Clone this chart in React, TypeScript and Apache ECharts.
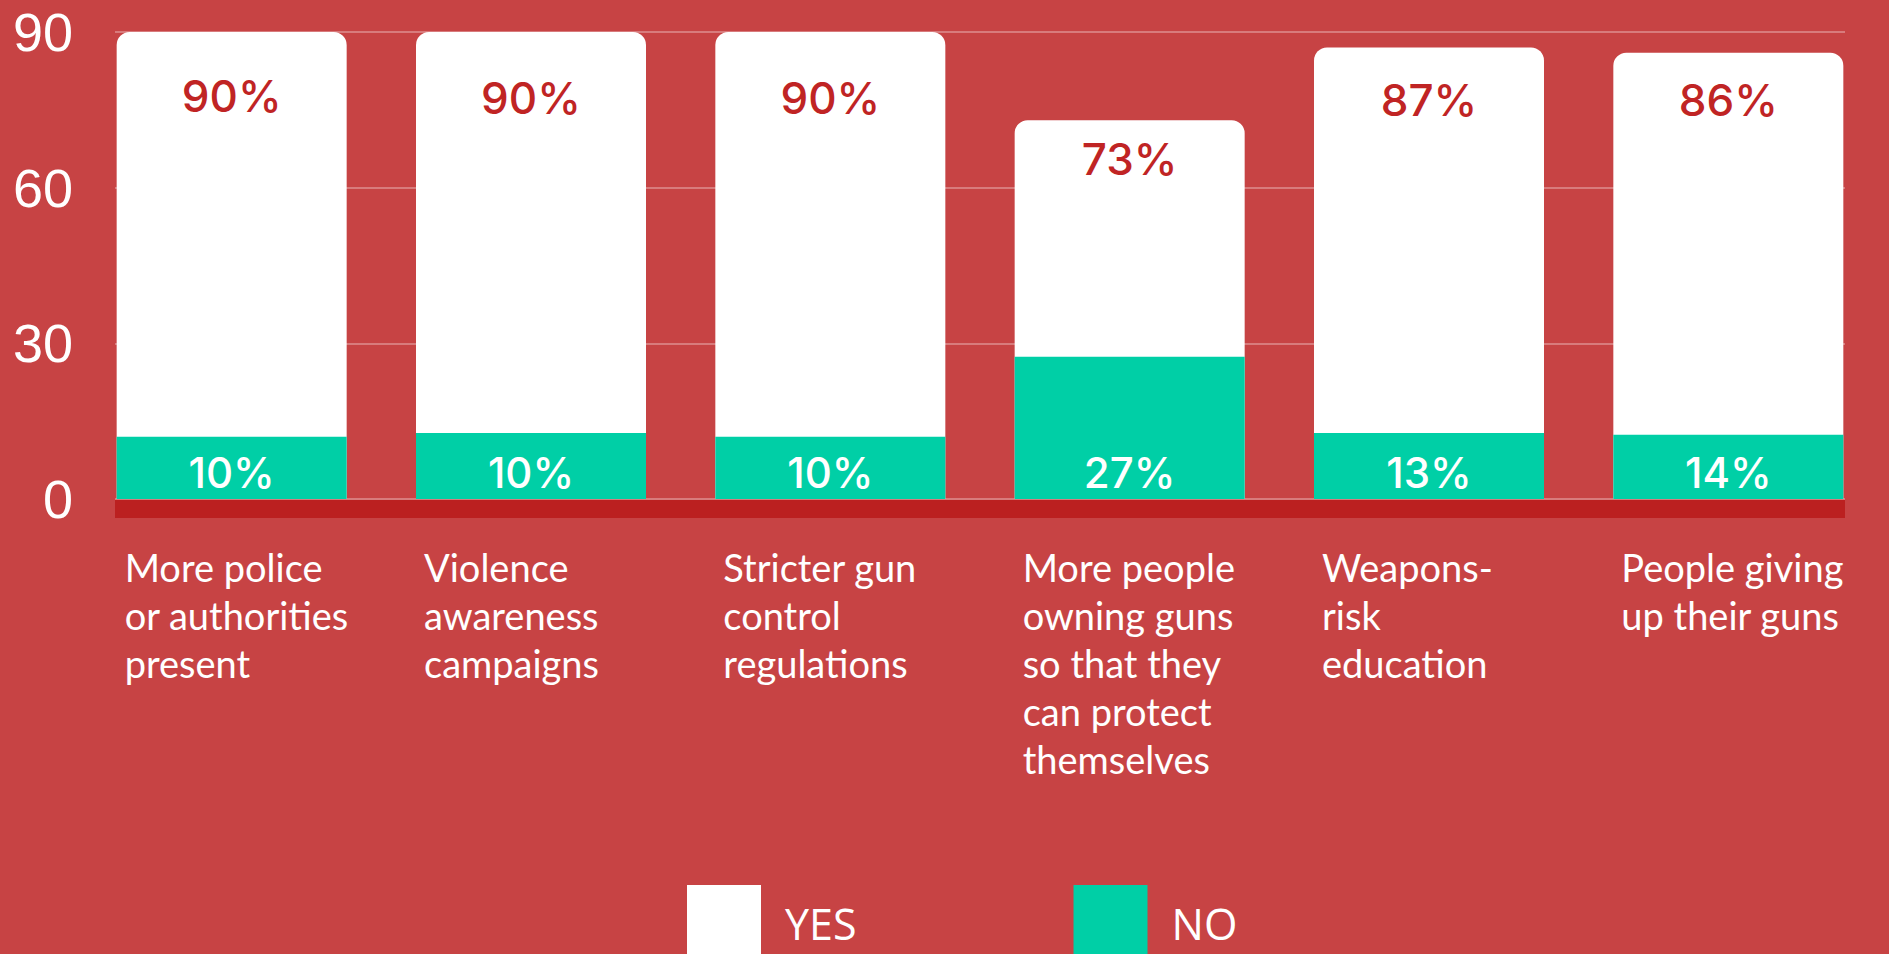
import React, { useEffect, useRef } from "react";
import * as echarts from "echarts";

const categories = [
  "More police\nor authorities\npresent",
  "Violence\nawareness\ncampaigns",
  "Stricter gun\ncontrol\nregulations",
  "More people\nowning guns\nso that they\ncan protect\nthemselves",
  "Weapons-\nrisk\neducation",
  "People giving\nup their guns",
];
const yesValues = [90, 90, 90, 73, 87, 86];
const noPercent = [10, 10, 10, 27, 13, 14];
// heights of the NO bars as drawn in the picture
const noBarHeights = [12, 12.7, 12, 27.4, 12.7, 12.4];
const yTicks = [0, 30, 60, 90];

// label placement (style only)
const yesLabelDistance = [42, 44, 44, 17, 30, 25];

const BG = "#C74344";
const TEAL = "#00CFA6";
const BAND = "#BB2020";
const PCT_RED = "#C02424";

export default function App() {
  const ref = useRef<HTMLDivElement>(null);
  useEffect(() => {
    if (!ref.current) return;
    const chart = echarts.init(ref.current, null, { renderer: "svg" });
    const richLabel = (s: string) =>
      s
        .split("\n")
        .map((l) => `{a|${l}}`)
        .join("\n");
    chart.setOption({
      animation: false,
      backgroundColor: BG,
      grid: [
        { left: 115, right: 44, top: 32, bottom: 455 },
        { left: 82, right: 11, top: 32, bottom: 455 },
      ],
      xAxis: [
        {
          type: "category",
          gridIndex: 0,
          data: categories,
          offset: 10,
          axisLine: {
            show: true,
            onZero: false,
            lineStyle: { color: BAND, width: 18, cap: "butt" },
          },
          axisTick: { show: false },
          axisLabel: { show: false },
          splitLine: { show: false },
        },
        {
          type: "category",
          gridIndex: 1,
          data: categories,
          axisLine: { show: false },
          axisTick: { show: false },
          splitLine: { show: false },
          axisLabel: {
            interval: 0,
            margin: 44,
            align: "center",
            formatter: (v: string) => richLabel(v),
            rich: {
              a: {
                width: 214,
                align: "left",
                color: "#ffffff",
                fontFamily: "Lato",
                fontSize: 38,
                lineHeight: 48,
              },
            },
          },
        },
      ],
      yAxis: [
        {
          type: "value",
          gridIndex: 0,
          min: yTicks[0],
          max: yTicks[yTicks.length - 1],
          interval: 30,
          axisLine: { show: false },
          axisTick: { show: false },
          axisLabel: {
            margin: 42,
            color: "#ffffff",
            fontFamily: "Liberation Sans",
            fontSize: 54,
          },
          splitLine: {
            show: true,
            lineStyle: { color: "rgba(255,255,255,0.3)", width: 2 },
          },
        },
        {
          type: "value",
          gridIndex: 1,
          min: yTicks[0],
          max: yTicks[yTicks.length - 1],
          interval: 30,
          show: false,
          splitLine: { show: false },
        },
      ],
      legend: {
        left: 687,
        top: 885,
        padding: 0,
        itemWidth: 74,
        itemHeight: 77,
        itemGap: 217,
        icon: "rect",
        textStyle: {
          color: "#ffffff",
          fontFamily: "Open Sans",
          fontSize: 43,
          lineHeight: 40,
          padding: [0, 0, 0, 19],
        },
        data: ["YES", "NO"],
      },
      series: [
        {
          name: "YES",
          type: "bar",
          xAxisIndex: 1,
          yAxisIndex: 1,
          data: yesValues.map((v, i) => ({
            value: v,
            label: { distance: yesLabelDistance[i] },
          })),
          barWidth: 230,
          barGap: "-100%",
          itemStyle: { color: "#ffffff", borderRadius: [13, 13, 0, 0] },
          label: {
            show: true,
            position: "insideTop",
            color: PCT_RED,
            fontFamily: "Inter",
            fontWeight: 500,
            fontSize: 44,
            formatter: (p: any) => `${p.value}%`,
          },
        },
        {
          name: "NO",
          type: "bar",
          xAxisIndex: 1,
          yAxisIndex: 1,
          data: noBarHeights,
          barWidth: 230,
          barGap: "-100%",
          itemStyle: { color: TEAL },
          label: {
            show: true,
            position: "insideBottom",
            distance: 6,
            color: "#ffffff",
            fontFamily: "Inter",
            fontWeight: 500,
            fontSize: 42,
            formatter: (p: any) => `${noPercent[p.dataIndex]}%`,
          },
        },
      ],
    });
    return () => chart.dispose();
  }, []);
  return (
    <div
      ref={ref}
      style={{ position: "fixed", left: 0, top: 0, width: 1889, height: 954 }}
    />
  );
}
